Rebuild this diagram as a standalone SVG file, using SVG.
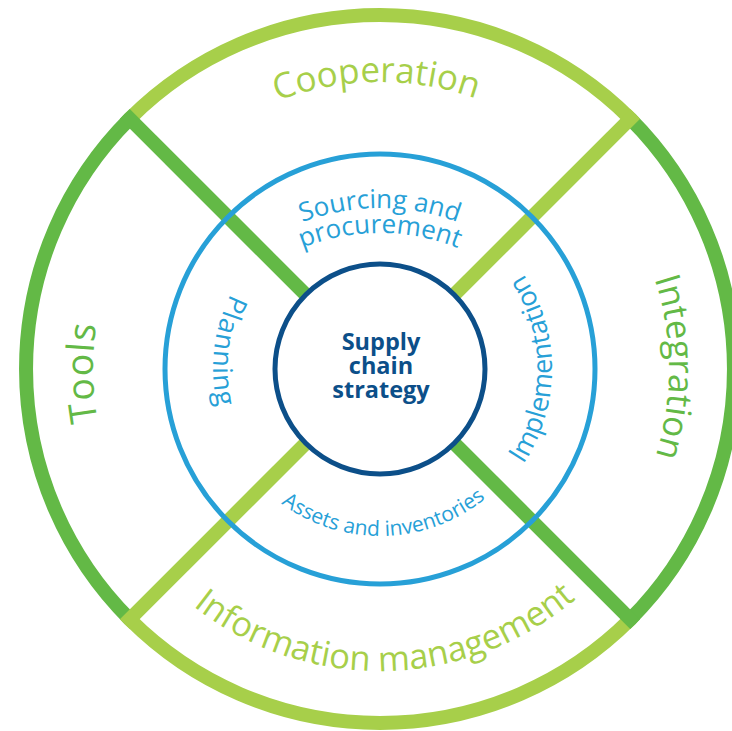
<svg xmlns="http://www.w3.org/2000/svg" xmlns:xlink="http://www.w3.org/1999/xlink" width="732" height="731" viewBox="0 0 732 731">
<style>
.lg{fill:none;stroke:#a7cf4a;stroke-width:14}
.dg{fill:none;stroke:#63b946;stroke-width:14}
.lgl{stroke:#a7cf4a;stroke-width:14;stroke-linecap:butt}
.dgl{stroke:#63b946;stroke-width:14;stroke-linecap:butt}
.outer{font-family:"Open Sans","Noto Sans",sans-serif;font-size:35px}
.inner{font-family:"Open Sans","Noto Sans",sans-serif;font-size:26px;fill:#27a0d7}
.tlg{fill:#a7cf4a}
.tdg{fill:#63b946}
.core{font-family:"Open Sans","Noto Sans",sans-serif;font-size:23.5px;font-weight:bold;fill:#0c4f89;text-anchor:middle}
</style>
<defs>
<clipPath id="ringclip"><circle cx="380" cy="369" r="361"/></clipPath>
<path id="pCoop" d="M93 369 A287 287 0 0 1 667 369"/>
<path id="pInteg" d="M380 80 A289 289 0 0 1 380 658"/>
<path id="pTools" d="M380 656 A287 287 0 0 1 380 82"/>
<path id="pInfo" d="M78 369 A302 302 0 0 0 682 369"/>
<path id="pSrc1" d="M160 428 A220 220 0 0 1 600 428"/>
<path id="pSrc2" d="M170 443 A210 210 0 0 1 590 443"/>
<path id="pImpl" d="M380 541 A172 172 0 0 0 380 197"/>
<path id="pPlan" d="M380 202 A167 167 0 0 0 380 536"/>
<path id="pAsset" d="M213 369 A167 167 0 0 0 547 369"/>
</defs>
<rect width="732" height="731" fill="#ffffff"/>
<g id="outer-ring">
<path class="lg" d="M129.7 118.7 A354 354 0 0 1 630.3 118.7"/>
<path class="dg" d="M630.3 118.7 A354 354 0 0 1 630.3 619.3"/>
<path class="lg" d="M630.3 619.3 A354 354 0 0 1 129.7 619.3"/>
<path class="dg" d="M129.7 619.3 A354 354 0 0 1 129.7 118.7"/>
</g>
<g id="connectors" clip-path="url(#ringclip)">
<line class="dgl" x1="305.8" y1="294.8" x2="121.6" y2="110.6"/>
<line class="lgl" x1="454.2" y1="294.8" x2="638.4" y2="110.6"/>
<line class="lgl" x1="305.8" y1="443.2" x2="121.6" y2="627.4"/>
<line class="dgl" x1="454.2" y1="443.2" x2="638.4" y2="627.4"/>
</g>
<g id="inner-ring">
<circle cx="380" cy="369" r="215" fill="none" stroke="#27a0d7" stroke-width="5"/>
</g>
<g id="cooperation"><text class="outer tlg"><textPath xlink:href="#pCoop" href="#pCoop" startOffset="49.6%" text-anchor="middle">Cooperation</textPath></text></g>
<g id="integration"><text class="outer tdg"><textPath xlink:href="#pInteg" href="#pInteg" startOffset="49.8%" text-anchor="middle">Integration</textPath></text></g>
<g id="tools"><text class="outer tdg" style="font-size:37.5px;letter-spacing:1px"><textPath xlink:href="#pTools" href="#pTools" startOffset="49.6%" text-anchor="middle">Tools</textPath></text></g>
<g id="information-management"><text class="outer tlg" style="font-size:34.5px"><textPath xlink:href="#pInfo" href="#pInfo" startOffset="50.6%" text-anchor="middle">Information management</textPath></text></g>
<g id="sourcing">
<text class="inner"><textPath xlink:href="#pSrc1" href="#pSrc1" startOffset="50%" text-anchor="middle">Sourcing and</textPath></text>
<text class="inner"><textPath xlink:href="#pSrc2" href="#pSrc2" startOffset="50%" text-anchor="middle">procurement</textPath></text>
</g>
<g id="implementation"><text class="inner" style="font-size:27px"><textPath xlink:href="#pImpl" href="#pImpl" startOffset="50%" text-anchor="middle">Implementation</textPath></text></g>
<g id="planning"><text class="inner" style="font-size:27px;letter-spacing:1px"><textPath xlink:href="#pPlan" href="#pPlan" startOffset="46.3%" text-anchor="middle">Planning</textPath></text></g>
<g id="assets"><text class="inner" style="font-size:21px"><textPath xlink:href="#pAsset" href="#pAsset" startOffset="50.8%" text-anchor="middle">Assets and inventories</textPath></text></g>
<g id="center">
<circle cx="380" cy="369" r="105" fill="#ffffff" stroke="#0c4f89" stroke-width="5"/>
<text class="core" x="381" y="350">Supply</text>
<text class="core" x="381" y="374">chain</text>
<text class="core" x="381" y="398">strategy</text>
</g>
</svg>
